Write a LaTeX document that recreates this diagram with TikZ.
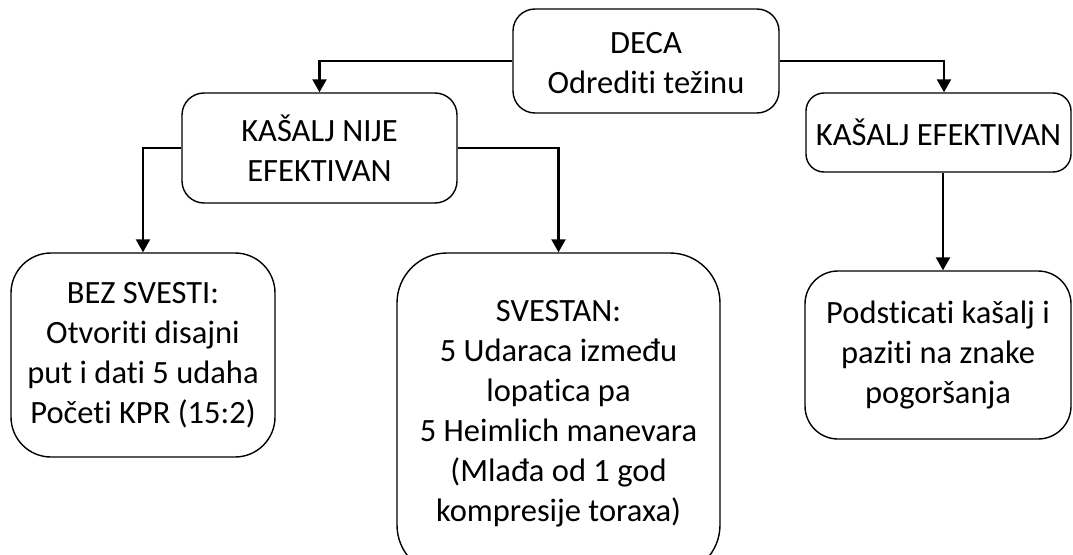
\documentclass[tikz,border=0pt]{standalone}
\usepackage{fontspec}
\setmainfont{Carlito}[Ligatures=NoCommon]
\usetikzlibrary{arrows.meta}
\begin{document}
\begin{tikzpicture}[x=1pt,y=-1pt,
  box/.style={draw, line width=1.4pt, rounded corners=#1, align=center,
    inner sep=0pt, font=\fontsize{32.5}{40}\selectfont},
  box/.default=20pt,
  link/.style={line width=2.2pt, -{Triangle[width=14pt,length=13pt]}}]
\clip (0,0) rectangle (1073,554);

% boxes
\node[box=22pt, minimum width=266pt, minimum height=104pt] (deca) at (646,61)
  {\rule{0pt}{26pt}DECA\\Odrediti težinu};
\node[box=22pt, minimum width=275pt, minimum height=110pt] (nije) at (319.5,148)
  {KAŠALJ NIJE\\EFEKTIVAN};
\node[box=18pt, minimum width=265pt, minimum height=79pt] (efek) at (938.5,132.5)
  {KAŠALJ EFEKTIVAN};
\node[box=40pt, minimum width=264pt, minimum height=204pt] (bez) at (143,355)
  {BEZ SVESTI:\\Otvoriti disajni\\put i dati 5 udaha\\Početi KPR (15:2)};
\node[box=50pt, minimum width=323pt, minimum height=322pt] (svestan) at (558.5,414)
  {SVESTAN:\\5 Udaraca između\\lopatica pa\\5 Heimlich manevara\\(Mlađa od 1 god\\kompresije toraxa)};
\node[box=33pt, minimum width=266pt, minimum height=168pt] (pods) at (938,355)
  {Podsticati kašalj i\\paziti na znake\\pogoršanja};

% connectors
\coordinate (efekIn) at ([xshift=5.5pt]efek.north);
\coordinate (podsIn) at ([xshift=5pt]pods.north);
\draw[link] (deca.west) -| (nije.north);
\draw[link] (deca.east) -| (efekIn);
\draw[link] (nije.west) -| (bez.north);
\draw[link] (nije.east) -| (svestan.north);
\draw[link] (efek.south -| podsIn) -- (podsIn);
\end{tikzpicture}
\end{document}
